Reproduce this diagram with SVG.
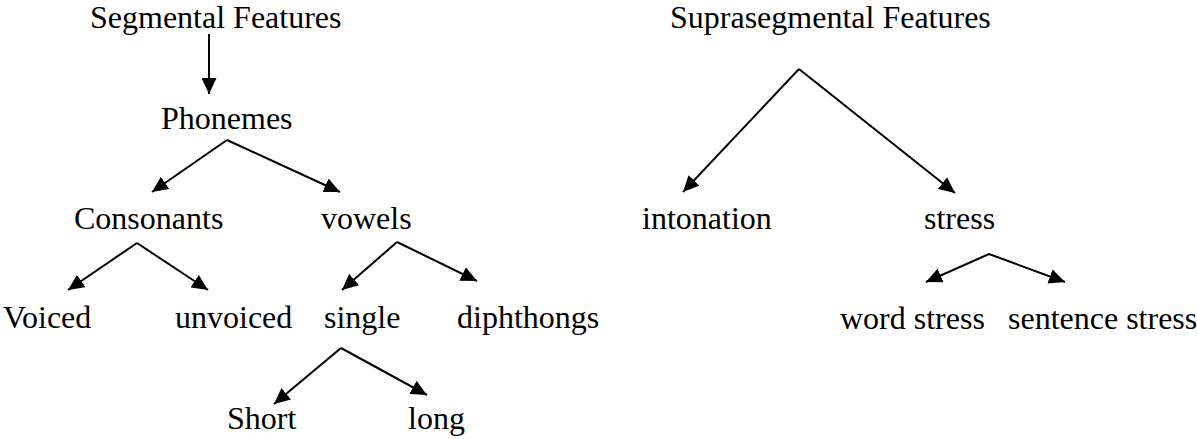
<svg xmlns="http://www.w3.org/2000/svg" width="1197" height="439" viewBox="0 0 1197 439">
  <style>
    text { font-family: "Liberation Serif", "Times New Roman", serif; font-size: 32px; fill: #000; }
    .c { stroke: #000; stroke-width: 2; fill: none; marker-end: url(#ah); }
  </style>
  <defs>
    <marker id="ah" viewBox="0 0 16 15" markerWidth="16" markerHeight="15" refX="16" refY="7.5" orient="auto" markerUnits="userSpaceOnUse">
      <path d="M0,0 L16,7.5 L0,15 z" fill="#000"/>
    </marker>
  </defs>
  <rect width="1197" height="439" fill="#fff"/>
  <g id="n-segmental"><text x="90" y="28">Segmental Features</text></g>
  <g id="n-phonemes"><text x="161" y="129">Phonemes</text></g>
  <g id="n-consonants"><text x="74" y="229">Consonants</text></g>
  <g id="n-vowels"><text x="321" y="229">vowels</text></g>
  <g id="n-voiced"><text x="3" y="328">Voiced</text></g>
  <g id="n-unvoiced"><text x="175" y="328">unvoiced</text></g>
  <g id="n-single"><text x="324" y="328">single</text></g>
  <g id="n-diphthongs"><text x="457" y="328">diphthongs</text></g>
  <g id="n-short"><text x="227" y="429">Short</text></g>
  <g id="n-long"><text x="408" y="429">long</text></g>
  <g id="n-suprasegmental"><text x="670" y="28">Suprasegmental Features</text></g>
  <g id="n-intonation"><text x="642" y="229">intonation</text></g>
  <g id="n-stress"><text x="924" y="229">stress</text></g>
  <g id="n-wordstress"><text x="840" y="329">word stress</text></g>
  <g id="n-sentencestress"><text x="1008" y="329">sentence stress</text></g>
  <g id="connectors">
    <line class="c" x1="209" y1="34" x2="209" y2="94"/>
    <polyline class="c" points="227,140 152,192"/>
    <polyline class="c" points="227,140 340,192"/>
    <polyline class="c" points="137,243 68,290"/>
    <polyline class="c" points="137,243 208,290"/>
    <polyline class="c" points="397,242 342,290"/>
    <polyline class="c" points="397,242 477,281"/>
    <polyline class="c" points="341,348 274,404"/>
    <polyline class="c" points="341,348 427,395"/>
    <polyline class="c" points="799,69 683,192"/>
    <polyline class="c" points="799,69 955,193"/>
    <polyline class="c" points="989,254 926,282"/>
    <polyline class="c" points="989,254 1065,282"/>
  </g>
</svg>
